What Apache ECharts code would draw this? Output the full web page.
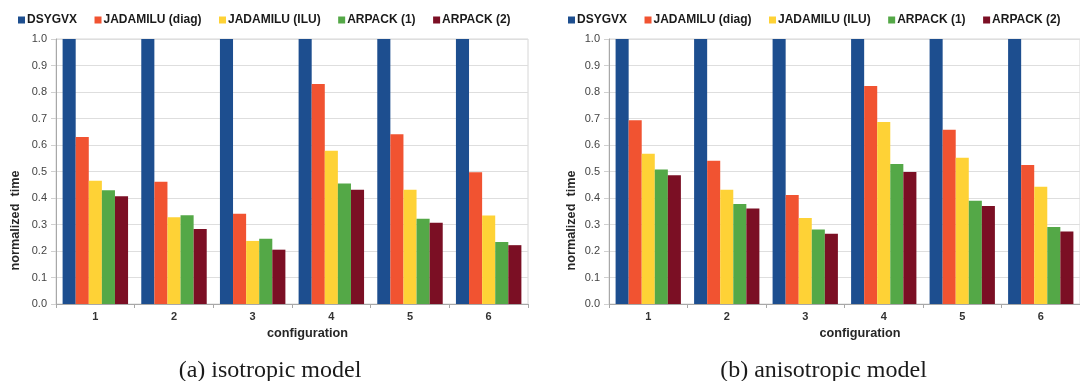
<!DOCTYPE html>
<html>
<head>
<meta charset="utf-8">
<script src="https://cdn.jsdelivr.net/npm/echarts@6/dist/echarts.min.js"></script>
<style>
html,body{margin:0;padding:0;background:#fff;}
#chart{width:1080px;height:381px;}
</style>
</head>
<body>
<div id="chart"></div>
<script>
const categories = ['1', '2', '3', '4', '5', '6'];
const seriesNames = ['DSYGVX', 'JADAMILU (diag)', 'JADAMILU (ILU)', 'ARPACK (1)', 'ARPACK (2)'];
const yTicks = [0, 0.1, 0.2, 0.3, 0.4, 0.5, 0.6, 0.7, 0.8, 0.9, 1.0];

// (a) isotropic model
const isoDSYGVX = [1.0, 1.0, 1.0, 1.0, 1.0, 1.0];
const isoJadDiag = [0.630, 0.461, 0.341, 0.830, 0.641, 0.497];
const isoJadILU = [0.465, 0.327, 0.238, 0.578, 0.431, 0.334];
const isoArpack1 = [0.429, 0.335, 0.246, 0.455, 0.322, 0.234];
const isoArpack2 = [0.407, 0.283, 0.205, 0.431, 0.307, 0.222];

// (b) anisotropic model
const aniDSYGVX = [1.0, 1.0, 1.0, 1.0, 1.0, 1.0];
const aniJadDiag = [0.693, 0.541, 0.411, 0.823, 0.658, 0.525];
const aniJadILU = [0.567, 0.431, 0.325, 0.687, 0.552, 0.442];
const aniArpack1 = [0.508, 0.377, 0.281, 0.528, 0.390, 0.291];
const aniArpack2 = [0.486, 0.360, 0.265, 0.498, 0.370, 0.274];

const captions = ['(a) isotropic model', '(b) anisotropic model'];
const xName = 'configuration';
const yName = 'normalized  time';

const colors = ['#1d4e8f', '#f15331', '#fed236', '#54a847', '#7b0f24'];
const isoData = [isoDSYGVX, isoJadDiag, isoJadILU, isoArpack1, isoArpack2];
const aniData = [aniDSYGVX, aniJadDiag, aniJadILU, aniArpack1, aniArpack2];

const font = 'Liberation Sans, Arial, sans-serif';

function makeX(gridIndex) {
  return {
    type: 'category', gridIndex: gridIndex, data: categories,
    axisLine: {lineStyle: {color: '#a8a8a8', width: 1}},
    axisTick: {show: true, length: 4, lineStyle: {color: '#a8a8a8'}},
    axisLabel: {fontFamily: font, fontWeight: 'bold', fontSize: 11, color: '#333', margin: 7},
    name: xName, nameLocation: 'middle', nameGap: 23,
    nameTextStyle: {fontFamily: font, fontWeight: 'bold', fontSize: 12.7, color: '#262626', padding: [0, 0, 0, 31]}
  };
}
function makeY(gridIndex, gap) {
  return {
    type: 'value', gridIndex: gridIndex, min: 0, max: 1, interval: 0.1,
    axisLine: {show: true, lineStyle: {color: '#a8a8a8', width: 1}},
    axisTick: {show: true, length: 5, lineStyle: {color: '#d0d0d0'}},
    splitLine: {show: true, lineStyle: {color: '#dedede', width: 1}},
    axisLabel: {fontFamily: font, fontSize: 11, color: '#444', margin: 9,
      formatter: v => (yTicks.indexOf(Math.round(v * 10) / 10) >= 0 ? v.toFixed(1) : '')},
    name: yName, nameLocation: 'middle', nameGap: gap, nameRotate: 90,
    nameTextStyle: {fontFamily: font, fontWeight: 'bold', fontSize: 12.7, color: '#262626', padding: [0, 98, 0, 0]}
  };
}
function makeSeries(dataSet, axisIndex) {
  return seriesNames.map((n, i) => ({
    name: n, type: 'bar', xAxisIndex: axisIndex, yAxisIndex: axisIndex,
    data: dataSet[i], barGap: '0%', barCategoryGap: '16.8%',
    itemStyle: {color: colors[i]}, animation: false
  }));
}
function makeLegend(left) {
  return {
    data: seriesNames, left: left, top: 14, padding: 0, icon: 'rect', itemWidth: 7, itemHeight: 7, itemGap: 17.5,
    textStyle: {fontFamily: font, fontWeight: 'bold', fontSize: 12, color: '#1a1a1a', padding: [0, 0, 0, -3]}
  };
}

const chart = echarts.init(document.getElementById('chart'), null, {renderer: 'canvas'});
chart.setOption({
  animation: false,
  color: colors,
  legend: [makeLegend(18), makeLegend(568)],
  grid: [
    {left: 56, top: 39, width: 472, height: 265, show: true, borderColor: '#d6d6d6', borderWidth: 1},
    {left: 609, top: 39, width: 474, height: 265, show: true, borderColor: '#d6d6d6', borderWidth: 1}
  ],
  xAxis: [makeX(0), makeX(1)],
  yAxis: [makeY(0, 34), makeY(1, 31)],
  series: makeSeries(isoData, 0).concat(makeSeries(aniData, 1)),
  graphic: [
    {type: 'text', silent: true, x: 270, y: 371,
     style: {text: captions[0], font: '24px "Liberation Serif", serif', fill: '#1a1a1a', align: 'center', verticalAlign: 'middle'}},
    {type: 'text', silent: true, x: 823.5, y: 371,
     style: {text: captions[1], font: '24px "Liberation Serif", serif', fill: '#1a1a1a', align: 'center', verticalAlign: 'middle'}}
  ]
});
</script>
</body>
</html>
